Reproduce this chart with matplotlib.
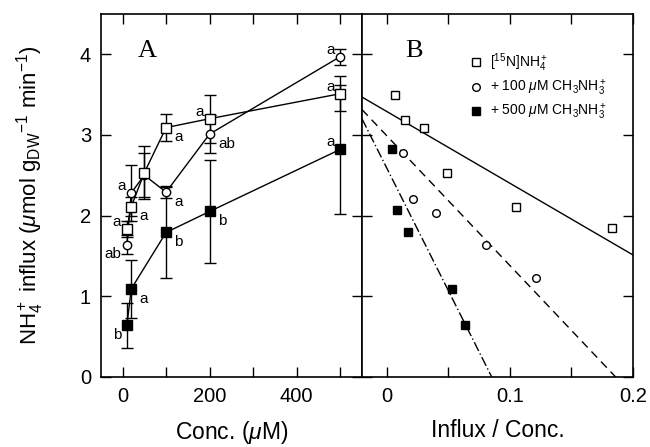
import matplotlib
matplotlib.use("Agg")
import matplotlib.pyplot as plt
import numpy as np

plt.rcParams['font.family'] = ['Liberation Sans', 'DejaVu Sans']
plt.rcParams['mathtext.fontset'] = 'custom'
plt.rcParams['mathtext.rm'] = 'Liberation Sans'
plt.rcParams['mathtext.it'] = 'Liberation Sans:italic'

# Panel A: influx vs concentration
conc = [10, 20, 50, 100, 200, 500]
nh4 = [1.83, 2.11, 2.53, 3.09, 3.20, 3.51]
nh4_err = [0.10, 0.12, 0.33, 0.17, 0.30, 0.22]
nh4_lab = ['a', 'a', '', 'a', 'a', 'a']
m100 = [1.64, 2.28, 2.50, 2.29, 3.01, 3.97]
m100_err = [0.12, 0.35, 0.27, 0.07, 0.24, 0.10]
m100_lab = ['ab', 'a', '', 'a', 'ab', 'a']
conc500 = [10, 20, 100, 200, 500]
m500 = [0.64, 1.09, 1.79, 2.05, 2.82]
m500_err = [0.28, 0.36, 0.56, 0.64, 0.80]
m500_lab = ['b', 'a', 'b', 'b', 'a']

# letter placement: L = left, R = right-below, LB = left-below, LA = left-above
nh4_pos = ['L', 'R', '', 'R', 'L', 'L']
m100_pos = ['LB', 'L', '', 'R', 'R', 'L']
m500_pos = ['LB', 'R', 'R', 'R', 'LA']

# Panel B: influx vs influx/conc
b_nh4_x = [0.0065, 0.0152, 0.030, 0.049, 0.105, 0.183]
b_nh4_y = [3.50, 3.19, 3.08, 2.53, 2.11, 1.85]
b_m100_x = [0.013, 0.021, 0.040, 0.081, 0.121]
b_m100_y = [2.77, 2.20, 2.03, 1.64, 1.22]
b_m500_x = [0.0046, 0.0087, 0.0174, 0.0534, 0.0634]
b_m500_y = [2.83, 2.07, 1.80, 1.09, 0.64]
# regression lines: intercept, slope
fit_nh4 = (3.29, -8.9)
fit_m100 = (2.99, -16.1)
fit_m500 = (2.59, -30.4)

labels = [r'[$^{15}$N]NH$_4^+$',
          r'+ 100 $\mu$M CH$_3$NH$_3^+$',
          r'+ 500 $\mu$M CH$_3$NH$_3^+$']

fig = plt.figure(figsize=(6.5, 4.47), dpi=100)
axA = fig.add_axes([0.155, 0.157, 0.402, 0.812])
axB = fig.add_axes([0.557, 0.157, 0.417, 0.812])

offs = {'L': (-4, 0, 'right', 'bottom'), 'R': (6, -2, 'left', 'top'),
        'LB': (-4, -2, 'right', 'top'), 'LA': (-4, 0, 'right', 'bottom')}


def letters(ax, xs, ys, labs, pos):
    for x, y, t, p in zip(xs, ys, labs, pos):
        if not t:
            continue
        dx, dy, ha, va = offs[p]
        ax.annotate(t, (x, y), xytext=(dx, dy), textcoords='offset points',
                    ha=ha, va=va, fontsize=11)


ekw = dict(color='black', lw=1.0, capsize=4.5, elinewidth=1.0, capthick=1.0)
axA.errorbar(conc500, m500, yerr=m500_err, marker='s', ms=6.5, mfc='black',
             mec='black', **ekw)
axA.errorbar(conc, m100, yerr=m100_err, marker='o', ms=6, mfc='white',
             mec='black', **ekw)
axA.errorbar(conc, nh4, yerr=nh4_err, marker='s', ms=6.5, mfc='white',
             mec='black', **ekw)
letters(axA, conc, nh4, nh4_lab, nh4_pos)
letters(axA, conc, m100, m100_lab, m100_pos)
letters(axA, conc500, m500, m500_lab, m500_pos)

axA.set_xlim(-50, 550)
axA.set_ylim(0, 4.5)
axA.set_xticks(np.arange(0, 501, 100))
axA.set_xticklabels(['0', '', '200', '', '400', ''])
axA.set_yticks([0, 1, 2, 3, 4])
axA.set_xlabel(r'Conc. ($\mu$M)', fontsize=16.5, labelpad=10)
axA.set_ylabel(r'NH$_4^+$ influx ($\mu$mol g$_{\mathrm{DW}}$$^{-1}$ min$^{-1}$)',
               fontsize=16, labelpad=24)
axA.text(0.142, 0.88, 'A', transform=axA.transAxes, fontsize=19,
         family='Liberation Serif')

# Panel B
xx = np.array([-0.02, 0.2])
axB.plot(xx, fit_nh4[0] + fit_nh4[1] * xx, color='black', lw=1.0)
axB.plot(xx, fit_m100[0] + fit_m100[1] * xx, color='black', lw=1.0,
         ls=(0, (6, 4)))
axB.plot(xx, fit_m500[0] + fit_m500[1] * xx, color='black', lw=1.0,
         ls=(0, (7, 2, 1, 2)))
axB.plot(b_nh4_x, b_nh4_y, 's', ms=6, mfc='white', mec='black',
         label=labels[0])
axB.plot(b_m100_x, b_m100_y, 'o', ms=5.5, mfc='white', mec='black',
         label=labels[1])
axB.plot(b_m500_x, b_m500_y, 's', ms=6, mfc='black', mec='black',
         label=labels[2])
axB.set_xlim(-0.02, 0.2)
axB.set_ylim(0, 4.5)
axB.set_xticks([0, 0.05, 0.1, 0.15, 0.2])
axB.set_xticklabels(['0', '', '0.1', '', '0.2'])
axB.set_yticks([0, 1, 2, 3, 4])
axB.set_yticklabels([])
axB.set_xlabel('Influx / Conc.', fontsize=16.5, labelpad=10)
axB.text(0.159, 0.88, 'B', transform=axB.transAxes, fontsize=19,
         family='Liberation Serif')
axB.legend(loc='upper left', bbox_to_anchor=(0.38, 0.905), frameon=False,
           fontsize=10, handletextpad=0.4, borderaxespad=0.0,
           labelspacing=0.3, handlelength=1.2, borderpad=0.2)

for ax in (axA, axB):
    ax.tick_params(direction='in', length=7, width=1.0, top=True, right=True,
                   labelsize=14.5, pad=7)
    for s in ax.spines.values():
        s.set_linewidth(1.2)

fig.savefig('out.png', dpi=100)
